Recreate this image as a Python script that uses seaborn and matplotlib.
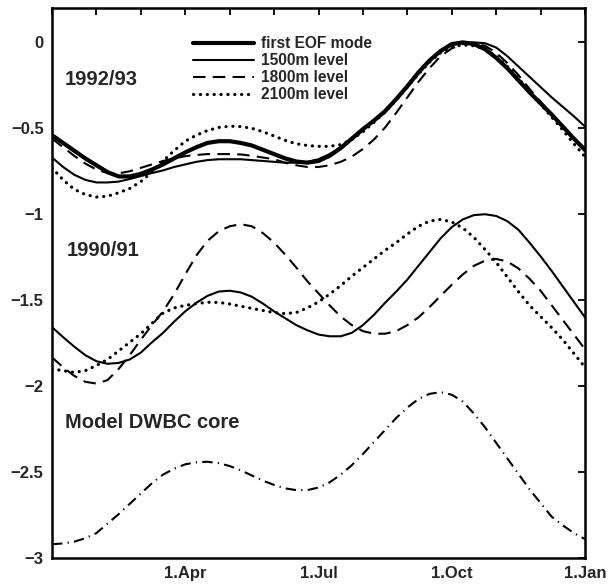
import numpy as np
import pandas as pd
import matplotlib
matplotlib.use("Agg")
import matplotlib.pyplot as plt
import seaborn as sns
from matplotlib.lines import Line2D

# time axis in months since 1 January (quarter-month steps)
months = [i / 4 for i in range(49)]

# 1992/93
eof_9293 = [-0.54, -0.585, -0.63, -0.675, -0.715, -0.755, -0.78, -0.78, -0.765, -0.74,
            -0.71, -0.675, -0.64, -0.61, -0.585, -0.575, -0.575, -0.585, -0.60, -0.625,
            -0.65, -0.675, -0.693, -0.70, -0.69, -0.66, -0.615, -0.56, -0.505, -0.455,
            -0.40, -0.33, -0.255, -0.175, -0.105, -0.05, -0.01, 0.0, -0.01, -0.04,
            -0.09, -0.15, -0.22, -0.29, -0.355, -0.42, -0.49, -0.56, -0.625]
m1500_9293 = [-0.67, -0.725, -0.77, -0.80, -0.815, -0.815, -0.81, -0.795, -0.778, -0.76,
              -0.745, -0.725, -0.71, -0.695, -0.685, -0.68, -0.68, -0.68, -0.685, -0.69,
              -0.695, -0.70, -0.70, -0.695, -0.68, -0.65, -0.61, -0.56, -0.505, -0.455,
              -0.40, -0.33, -0.255, -0.175, -0.105, -0.05, -0.01, 0.0, 0.0, -0.005,
              -0.03, -0.08, -0.14, -0.20, -0.26, -0.32, -0.375, -0.43, -0.49]
m1800_9293 = [-0.56, -0.61, -0.66, -0.705, -0.74, -0.76, -0.762, -0.75, -0.73, -0.71,
              -0.69, -0.675, -0.662, -0.655, -0.65, -0.65, -0.65, -0.652, -0.66, -0.67,
              -0.68, -0.70, -0.715, -0.725, -0.725, -0.715, -0.695, -0.665, -0.62, -0.565,
              -0.495, -0.41, -0.32, -0.23, -0.15, -0.08, -0.035, -0.01, -0.005, -0.02,
              -0.06, -0.12, -0.19, -0.27, -0.345, -0.42, -0.495, -0.565, -0.635]
m2100_9293 = [-0.73, -0.80, -0.855, -0.885, -0.90, -0.895, -0.875, -0.85, -0.81, -0.755,
              -0.69, -0.63, -0.575, -0.54, -0.513, -0.495, -0.488, -0.49, -0.50, -0.52,
              -0.545, -0.57, -0.59, -0.60, -0.605, -0.605, -0.595, -0.565, -0.52, -0.465,
              -0.405, -0.335, -0.26, -0.185, -0.115, -0.06, -0.025, -0.015, -0.02, -0.04,
              -0.08, -0.14, -0.21, -0.285, -0.36, -0.435, -0.51, -0.59, -0.665]

# 1990/91
m1500_9091 = [-1.657, -1.715, -1.77, -1.82, -1.855, -1.87, -1.865, -1.845, -1.805, -1.745,
              -1.69, -1.625, -1.565, -1.515, -1.475, -1.45, -1.445, -1.455, -1.48, -1.52,
              -1.565, -1.605, -1.645, -1.675, -1.70, -1.71, -1.71, -1.69, -1.645, -1.585,
              -1.515, -1.45, -1.38, -1.30, -1.22, -1.14, -1.075, -1.03, -1.005, -1.0,
              -1.01, -1.04, -1.09, -1.165, -1.245, -1.33, -1.42, -1.51, -1.60]
m1800_9091 = [-1.833, -1.89, -1.94, -1.975, -1.985, -1.965, -1.90, -1.82, -1.73, -1.645,
              -1.565, -1.465, -1.35, -1.24, -1.155, -1.10, -1.07, -1.058, -1.07, -1.11,
              -1.165, -1.235, -1.31, -1.39, -1.46, -1.53, -1.595, -1.645, -1.68, -1.695,
              -1.695, -1.68, -1.645, -1.60, -1.54, -1.475, -1.41, -1.35, -1.30, -1.27,
              -1.26, -1.275, -1.315, -1.375, -1.445, -1.53, -1.615, -1.70, -1.785]
m2100_9091 = [-1.90, -1.91, -1.92, -1.91, -1.88, -1.845, -1.795, -1.745, -1.695, -1.635,
              -1.575, -1.545, -1.53, -1.52, -1.512, -1.513, -1.522, -1.535, -1.548, -1.56,
              -1.572, -1.578, -1.572, -1.545, -1.51, -1.465, -1.415, -1.36, -1.31, -1.26,
              -1.21, -1.165, -1.115, -1.07, -1.04, -1.03, -1.045, -1.08, -1.135, -1.205,
              -1.28, -1.365, -1.45, -1.53, -1.595, -1.66, -1.73, -1.81, -1.89]

# model deep western boundary current core
model_dwbc = [-2.92, -2.915, -2.905, -2.885, -2.855, -2.80, -2.745, -2.685, -2.625, -2.565,
              -2.515, -2.48, -2.455, -2.443, -2.44, -2.448, -2.465, -2.49, -2.52, -2.55,
              -2.575, -2.595, -2.605, -2.605, -2.59, -2.56, -2.515, -2.46, -2.395, -2.325,
              -2.255, -2.185, -2.125, -2.075, -2.045, -2.035, -2.05, -2.09, -2.16, -2.24,
              -2.33, -2.42, -2.51, -2.60, -2.68, -2.76, -2.81, -2.855, -2.89]

tick_months = [3, 6, 9, 12]
tick_names = ["1.Apr", "1.Jul", "1.Oct", "1.Jan"]
legend_names = ["first EOF mode", "1500m level", "1800m level", "2100m level"]
panel_names = ["1992/93", "1990/91", "Model DWBC core"]

sns.set_style("white")
plt.rcParams["font.family"] = ["Liberation Sans", "DejaVu Sans"]
plt.rcParams["font.weight"] = "bold"

fig = plt.figure(figsize=(6.13, 5.87), dpi=100)
ax = fig.add_axes([52 / 613, 1 - 558 / 587, 533 / 613, 550 / 587])

styles = {
    "thick": dict(linewidth=3.0, linestyle="-"),
    "thin": dict(linewidth=1.5, linestyle="-"),
    "dash": dict(linewidth=1.5, linestyle=(0, (6, 3.5))),
    "dot": dict(linewidth=2.3, linestyle=(0, (0.05, 2.1)), dash_capstyle="round"),
    "dashdot": dict(linewidth=1.5, linestyle=(0, (5, 2.5, 0.6, 2.5))),
}

series = [
    (m2100_9293, "dot"), (m1800_9293, "dash"), (m1500_9293, "thin"), (eof_9293, "thick"),
    (m2100_9091, "dot"), (m1800_9091, "dash"), (m1500_9091, "thin"),
    (model_dwbc, "dashdot"),
]
for vals, st in series:
    df = pd.DataFrame({"month": months, "value": vals})
    sns.lineplot(data=df, x="month", y="value", ax=ax, color="black",
                 sort=False, estimator=None, **styles[st])

ax.set_xlim(0, 12)
ax.set_ylim(-3, 0.2)
ax.set_xticks(range(13))
ax.set_xticklabels(["" if m not in tick_months else tick_names[tick_months.index(m)]
                    for m in range(13)])
ax.set_yticks([0, -0.5, -1, -1.5, -2, -2.5, -3])
ax.set_yticklabels(["0", "\u22120.5", "\u22121", "\u22121.5", "\u22122", "\u22122.5", "\u22123"])
ax.set_xlabel("")
ax.set_ylabel("")
ax.tick_params(direction="in", length=5, width=1.3, top=True, right=True,
               labelsize=12, color="black")
ax.tick_params(axis="x", pad=6)
ax.tick_params(axis="y", pad=6)
for lab in ax.get_xticklabels() + ax.get_yticklabels():
    lab.set_fontweight("bold")
for sp in ax.spines.values():
    sp.set_visible(True)
    sp.set_linewidth(1.8)
    sp.set_color("black")

ax.text(0.29, -0.215, panel_names[0], fontsize=14.5, fontweight="bold", va="center", ha="left")
ax.text(0.33, -1.21, panel_names[1], fontsize=14.5, fontweight="bold", va="center", ha="left")
ax.text(0.29, -2.21, panel_names[2], fontsize=14.5, fontweight="bold", va="center", ha="left")

handles = [Line2D([], [], color="black", **styles[s]) for s in ["thick", "thin", "dash", "dot"]]
leg = ax.legend(handles, legend_names, loc="upper left", bbox_to_anchor=(141 / 533, 1 - 28 / 550),
                frameon=False, fontsize=11.2, handlelength=3.9, handletextpad=0.45,
                labelspacing=0.13, borderpad=0, borderaxespad=0)
for t in leg.get_texts():
    t.set_fontweight("bold")

fig.savefig("out.png", dpi=100)
